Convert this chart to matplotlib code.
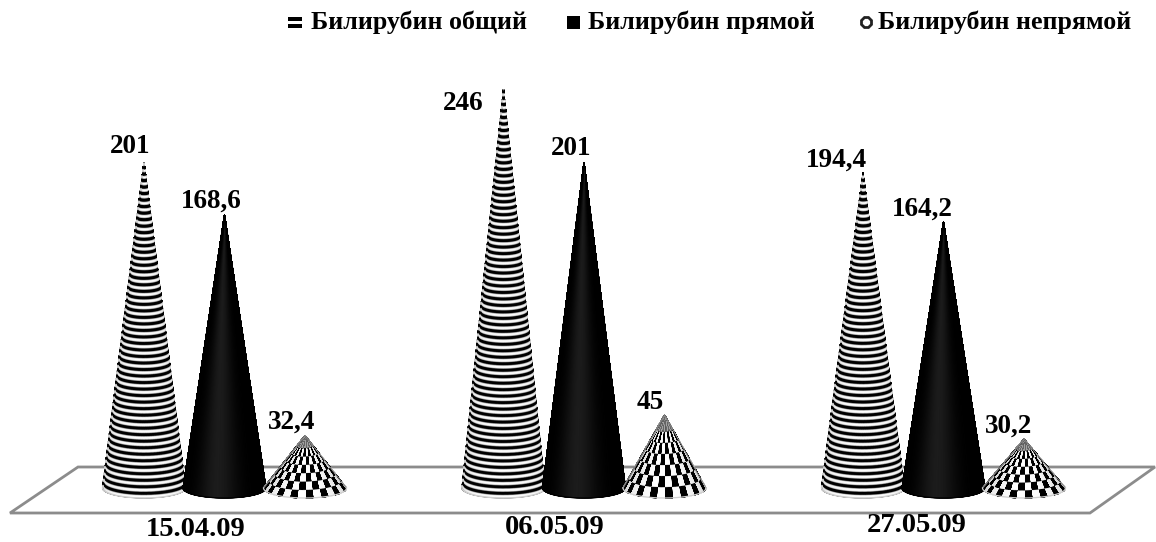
import numpy as np
import matplotlib.pyplot as plt
from matplotlib.patches import Polygon, Rectangle

plt.rcParams['font.family'] = ['Liberation Serif', 'DejaVu Serif']
plt.rcParams['font.weight'] = 'bold'

dates = ['15.04.09', '06.05.09', '27.05.09']
series_names = ['Билирубин общий', 'Билирубин прямой', 'Билирубин непрямой']
total = [201, 246, 194.4]
direct = [168.6, 201, 164.2]
indirect = [32.4, 45, 30.2]
total_labels = ['201', '246', '194,4']
direct_labels = ['168,6', '201', '164,2']
indirect_labels = ['32,4', '45', '30,2']

W, H = 1156, 542
PX_Y = 1.62       # пикселей на единицу значения
BASE_PX = 488
STEP_PX = 359.5
X0_PX = 224.5

fig = plt.figure(figsize=(W / 100, H / 100), dpi=100)
ax = fig.add_axes([0, 0, 1, 1])
ax.set_xlim(-X0_PX / STEP_PX, (W - X0_PX) / STEP_PX)
ax.set_ylim(-(H - BASE_PX) / PX_Y, BASE_PX / PX_Y)
ax.axis('off')


def frac(px, py):
    return px / W, 1 - py / H


# "пол" диаграммы
floor = Polygon([frac(78, 467), frac(1155, 467), frac(1090, 513), frac(10, 513)],
                closed=True, transform=ax.transAxes, facecolor='white',
                edgecolor='#8c8c8c', linewidth=2, zorder=1)
ax.add_patch(floor)

offset = 80.5 / STEP_PX
half_w = 41.5 / STEP_PX
depth = 10 / PX_Y


def cone(x, value, kind, z):
    th = np.linspace(0, np.pi, 361)
    t = np.linspace(0, 1, 1201)
    T, TH = np.meshgrid(t, th)
    X = x + half_w * (1 - T) * np.cos(TH)
    Y = T * value - depth * (1 - T) * np.sin(TH)
    side = np.sin(TH)
    if kind == 'stripes':
        n = value / 3.9
        tex = np.clip(0.5 + 1.0 * np.sin(2 * np.pi * n * T), 0, 1)
        C = tex * (0.82 + 0.18 * side ** 0.5)
    elif kind == 'black':
        C = 0.11 * np.exp(-((TH - 1.75) / 0.5) ** 2)
    else:
        cells = np.floor(TH * 16 / np.pi) + np.floor(T * 7.5)
        tex = (cells % 2 == 0).astype(float)
        C = tex * (0.8 + 0.2 * side)
        C = np.where(T > 0.8, 0.4 + 0.25 * tex, C)
    ax.pcolormesh(X, Y, C, cmap='gray', vmin=0, vmax=1, shading='gouraud', zorder=z)
    # тонкий контур
    if kind == 'checker':
        ax.plot([x - half_w, x, x + half_w], [0, value, 0], color='#808080', lw=0.7, zorder=z + 0.1)
    if kind == 'black':
        ax.plot([x - half_w, x, x + half_w], [0, value, 0], color='black', lw=0.5, zorder=z + 0.1)
    ax.plot(X[:, 0], Y[:, 0], color='#d0d0d0' if kind != 'black' else '#000000', lw=0.9, zorder=z + 0.1)


kinds = ['stripes', 'black', 'checker']
values = [total, direct, indirect]
labels = [total_labels, direct_labels, indirect_labels]
# смещения подписей от вершины конуса, пиксели
label_dx = [[-14, -40, -27], [-13, -13, -21], [-13, -14, -15]]
label_dy = [[16, -14, 13], [14, 14, 13], [13, 13, 13]]

for i in range(3):
    for s in range(3):
        x = i + (s - 1) * offset
        cone(x, values[s][i], kinds[s], 3 + s)
        ax.annotate(labels[s][i], xy=(x, values[s][i]),
                    xytext=(label_dx[s][i] * 0.72, label_dy[s][i] * 0.72),
                    textcoords='offset points', ha='center', va='center',
                    fontsize=19.5, fontweight='bold', zorder=10)

# подписи дат
date_x = [196, 555, 917]
date_y = [529, 528, 526]
for d, px, py in zip(dates, date_x, date_y):
    fx, fy = frac(px, py)
    ax.text(fx, fy, d, transform=ax.transAxes, ha='center', va='center',
            fontsize=20.5, fontweight='bold')

# легенда
legend_x = [311, 588, 878]
for name, px in zip(series_names, legend_x):
    fx, fy = frac(px, 22)
    ax.text(fx, fy, name, transform=ax.transAxes, ha='left', va='center',
            fontsize=18.7, fontweight='bold')


def rect(px, py, w, h, **kw):
    fx, fy = frac(px, py + h)
    ax.add_patch(Rectangle((fx, fy), w / W, h / H, transform=ax.transAxes, **kw))


rect(288, 17, 14, 4, facecolor='black', edgecolor='none')
rect(288, 24, 14, 4, facecolor='black', edgecolor='none')
rect(567, 16, 13, 13, facecolor='black', edgecolor='none')
fx, fy = frac(866, 22)
ax.plot([fx], [fy], marker='8', ms=7.5, mfc='white', mec='#222222', mew=2,
        transform=ax.transAxes, ls='none')

fig.savefig('out.png', dpi=100)
